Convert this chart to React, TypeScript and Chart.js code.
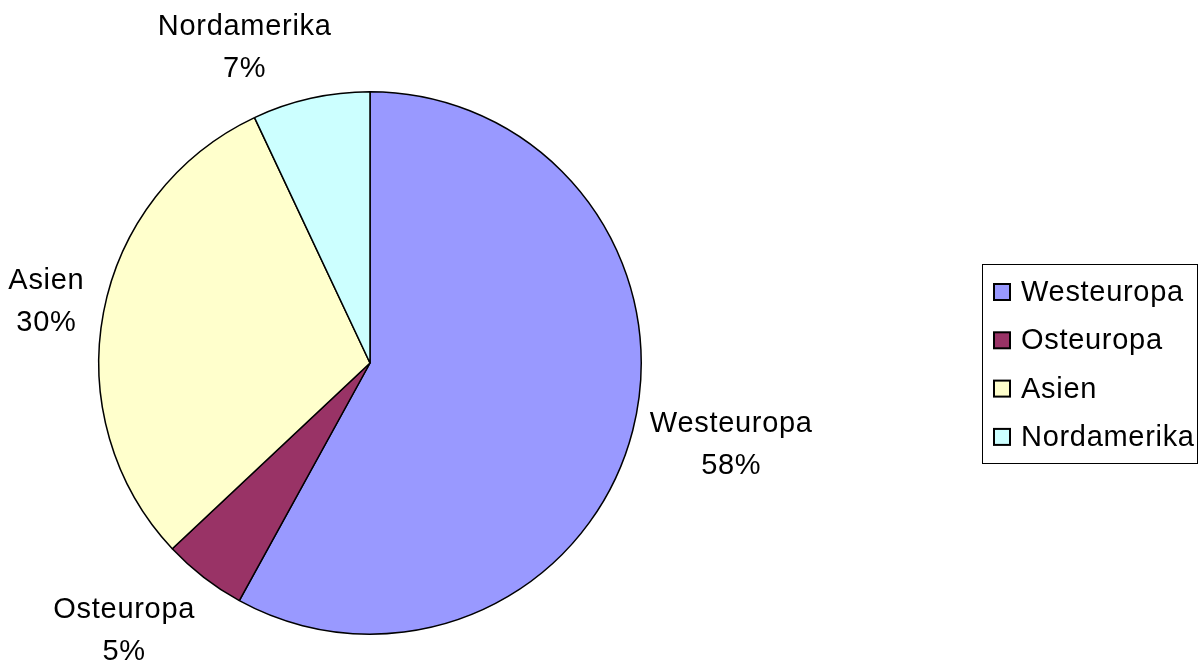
import React, { useEffect, useRef } from "react";
import { Chart, registerables } from "chart.js";

Chart.register(...registerables);

const categories = ["Westeuropa", "Osteuropa", "Asien", "Nordamerika"];
const shares = [58, 5, 30, 7];
const colors = ["#9999FF", "#993366", "#FFFFCC", "#CCFFFF"];
const percentLabels = ["58%", "5%", "30%", "7%"];

const FONT = '29px "Liberation Sans", Arial, sans-serif';
const SPACING = "0.7px";
const LINE_H = 42;
// small nudges replicating the spreadsheet's label placement
const labelNudge = [
  [10, 2],
  [-30, 13],
  [-10, 0],
  [-45, 0],
];

const outsideLabels = {
  id: "outsideLabels",
  afterDatasetsDraw(chart: any) {
    const ctx = chart.ctx;
    const meta = chart.getDatasetMeta(0);
    ctx.save();
    ctx.font = FONT;
    (ctx as any).letterSpacing = SPACING;
    ctx.fillStyle = "#000";
    ctx.textAlign = "center";
    ctx.textBaseline = "middle";
    meta.data.forEach((arc: any, i: number) => {
      const { x, y, startAngle, endAngle, outerRadius } = arc.getProps(
        ["x", "y", "startAngle", "endAngle", "outerRadius"],
        true
      );
      const mid = (startAngle + endAngle) / 2;
      const dx = Math.cos(mid);
      const dy = Math.sin(mid);
      const w = Math.max(
        ctx.measureText(categories[i]).width,
        ctx.measureText(percentLabels[i]).width
      );
      const h = LINE_H * 2;
      const px = x + dx * (outerRadius + 10);
      const py = y + dy * (outerRadius + 10);
      const cx = px + (dx * w) / 2 + labelNudge[i][0];
      const cy = py + (dy * h) / 2 + labelNudge[i][1];
      ctx.fillText(categories[i], cx, cy - LINE_H / 2);
      ctx.fillText(percentLabels[i], cx, cy + LINE_H / 2);
    });
    ctx.restore();
  },
};

const boxLegend = {
  id: "boxLegend",
  afterDraw(chart: any) {
    const ctx = chart.ctx;
    const bx = 982.5;
    const by = 264.5;
    const bw = 215;
    const bh = 199;
    ctx.save();
    ctx.strokeStyle = "#000";
    ctx.lineWidth = 1;
    ctx.strokeRect(bx, by, bw, bh);
    ctx.font = FONT;
    (ctx as any).letterSpacing = SPACING;
    ctx.textAlign = "left";
    ctx.textBaseline = "middle";
    categories.forEach((c, i) => {
      const cy = 292 + i * 48.3;
      ctx.fillStyle = colors[i];
      ctx.fillRect(994, cy - 8, 16, 16);
      ctx.lineWidth = 2;
      ctx.strokeStyle = "#000";
      ctx.strokeRect(994, cy - 8, 16, 16);
      ctx.fillStyle = "#000";
      ctx.fillText(c, 1021, cy + 1);
    });
    ctx.restore();
  },
};

export default function App() {
  const ref = useRef<HTMLCanvasElement>(null);
  useEffect(() => {
    if (!ref.current) return;
    const chart = new Chart(ref.current, {
      type: "pie",
      data: {
        labels: categories,
        datasets: [
          {
            data: shares,
            backgroundColor: colors,
            borderColor: "#000",
            borderWidth: 1.5,
          },
        ],
      },
      options: {
        responsive: false,
        animation: false,
        layout: { padding: { left: 98, right: 557, top: 91, bottom: 31 } },
        plugins: {
          legend: { display: false },
          tooltip: { enabled: false },
        },
      },
      plugins: [outsideLabels, boxLegend],
    });
    return () => chart.destroy();
  }, []);
  return (
    <div style={{ position: "fixed", left: 0, top: 0, width: 1199, height: 666, background: "#fff" }}>
      <canvas ref={ref} width={1199} height={666} />
    </div>
  );
}
